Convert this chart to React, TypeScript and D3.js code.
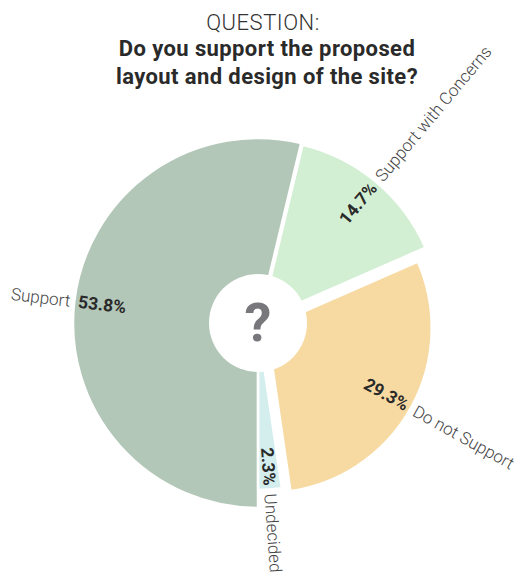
import React from "react";
import * as d3 from "d3";

const categories = ["Support", "Support with Concerns", "Do not Support", "Undecided"];
const values = [53.8, 14.7, 29.3, 2.3];
const percentLabels = ["53.8%", "14.7%", "29.3%", "2.3%"];
const titleLines = ["QUESTION:", "Do you support the proposed", "layout and design of the site?"];

const colors = ["#b3c7b8", "#d3efd3", "#f7daa2", "#d4eeee"];
const sliceRadius = [185, 180, 165, 165];
const sliceExplode = [0, 4, 10, 2];

const W = 519;
const H = 578;
const cx = 258;
const cy = 323;
const holeR = 49;

export default function App() {
  const pie = d3
    .pie<number>()
    .sort(null)
    .value((d) => d)
    .startAngle(Math.PI)
    .endAngle(3 * Math.PI);
  const arcs = pie(values);

  return (
    <svg
      width={W}
      height={H}
      style={{ position: "absolute", left: 0, top: 0, background: "#fff" }}
      fontFamily="Roboto, 'DejaVu Sans', sans-serif"
    >
      <text x={263} y={30} textAnchor="middle" fontSize={22} fontWeight={300} fill="#333" letterSpacing={0.5}>
        {titleLines[0]}
      </text>
      <text x={267} y={56} textAnchor="middle" fontSize={22} fontWeight={700} fill="#2a2a2a" letterSpacing={0.4}>
        {titleLines[1]}
      </text>
      <text x={267} y={84} textAnchor="middle" fontSize={22} fontWeight={700} fill="#2a2a2a" letterSpacing={0.4}>
        {titleLines[2]}
      </text>
      <g transform={`translate(${cx},${cy})`}>
        {arcs.map((a, i) => {
          const mid = (a.startAngle + a.endAngle) / 2;
          const dx = Math.sin(mid) * sliceExplode[i];
          const dy = -Math.cos(mid) * sliceExplode[i];
          const path = d3.arc<any>().innerRadius(0).outerRadius(sliceRadius[i])(a as any) || "";
          return (
            <path
              key={categories[i]}
              d={path}
              transform={`translate(${dx},${dy})`}
              fill={colors[i]}
              stroke="#fff"
              strokeWidth={2.5}
              strokeLinejoin="round"
            />
          );
        })}
        <circle r={holeR} fill="#fff" />
        <text x={0} y={18} textAnchor="middle" fontSize={54} fontWeight={700} fill="#77777c">
          ?
        </text>
        {arcs.map((a, i) => {
          const mid = (a.startAngle + a.endAngle) / 2;
          const r = sliceRadius[i] + sliceExplode[i];
          const ex = Math.sin(mid) * r;
          const ey = -Math.cos(mid) * r;
          let deg = (mid * 180) / Math.PI - 90;
          const flip = Math.sin(mid) < 0;
          if (flip) deg += 180;
          const pad = 4;
          return (
            <g key={"lbl" + i} transform={`translate(${ex},${ey}) rotate(${deg})`}>
              <text
                x={flip ? pad : -pad}
                y={0}
                dominantBaseline="central"
                textAnchor={flip ? "start" : "end"}
                fontSize={17.5}
                fontWeight={700}
                fill="#2a2a2a"
              >
                {percentLabels[i]}
              </text>
              <text
                x={flip ? -pad : pad}
                y={0}
                dominantBaseline="central"
                textAnchor={flip ? "end" : "start"}
                fontSize={17}
                fontWeight={300}
                fill="#444"
              >
                {categories[i]}
              </text>
            </g>
          );
        })}
      </g>
    </svg>
  );
}
